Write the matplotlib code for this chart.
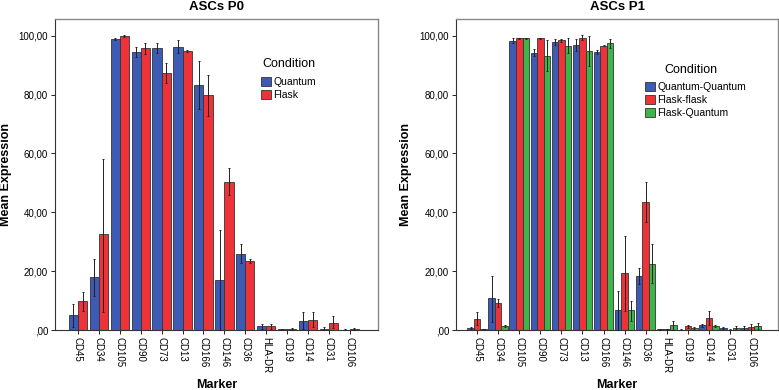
import numpy as np
import matplotlib.pyplot as plt
from matplotlib.patches import Patch

plt.rcParams['font.family'] = ['Liberation Sans', 'DejaVu Sans']

markers = ["CD45", "CD34", "CD105", "CD90", "CD73", "CD13", "CD166",
           "CD146", "CD36", "HLA-DR", "CD19", "CD14", "CD31", "CD106"]

# ASCs P0
p0_quantum = [5.1, 17.9, 98.9, 94.6, 95.8, 96.3, 83.2, 17.0, 26.0, 1.2, 0.2, 3.1, 0.45, 0.1]
p0_quantum_lo = [1.0, 11.5, 98.6, 92.9, 94.0, 94.0, 75.0, 0.0, 22.9, 0.5, 0.1, 0.2, 0.1, 0.05]
p0_quantum_hi = [9.0, 24.0, 99.2, 96.3, 97.6, 98.5, 91.4, 34.0, 29.1, 2.0, 0.4, 6.0, 0.9, 0.2]
p0_flask = [10.0, 32.5, 100.0, 95.8, 87.4, 94.9, 79.8, 50.4, 23.4, 1.2, 0.45, 3.4, 2.4, 0.35]
p0_flask_lo = [6.6, 6.2, 99.7, 93.8, 83.8, 94.6, 72.9, 45.9, 22.9, 0.5, 0.1, 0.9, 0.7, 0.1]
p0_flask_hi = [13.0, 58.0, 100.3, 97.7, 90.8, 95.2, 86.6, 54.9, 24.0, 2.0, 0.8, 6.0, 4.8, 0.7]

# ASCs P1
p1_qq = [0.6, 10.8, 98.4, 94.2, 97.8, 96.8, 94.4, 6.8, 18.3, 0.2, 0.1, 1.6, 0.6, 0.8]
p1_qq_lo = [0.2, 2.6, 97.7, 93.1, 96.9, 94.9, 93.8, 0.0, 15.5, 0.1, 0.05, 1.1, 0.2, 0.1]
p1_qq_hi = [1.0, 18.5, 99.1, 95.4, 98.8, 98.8, 95.1, 13.3, 21.0, 0.3, 0.2, 2.0, 1.0, 1.5]
p1_ff = [3.9, 9.1, 99.1, 99.1, 98.5, 99.3, 96.7, 19.3, 43.6, 0.2, 1.2, 4.2, 0.1, 1.0]
p1_ff_lo = [1.7, 7.7, 98.9, 98.9, 98.0, 98.5, 96.4, 6.6, 36.8, 0.1, 0.8, 1.7, 0.05, 0.0]
p1_ff_hi = [6.0, 10.4, 99.3, 99.3, 99.0, 100.2, 97.0, 32.0, 50.4, 0.3, 1.7, 6.5, 0.2, 2.0]
p1_fq = [0.2, 1.4, 99.1, 93.3, 96.7, 94.9, 97.4, 6.8, 22.5, 1.6, 0.6, 1.4, 0.8, 1.4]
p1_fq_lo = [0.1, 1.0, 98.9, 88.0, 94.2, 89.9, 96.0, 3.2, 15.9, 0.0, 0.2, 1.0, 0.2, 0.5]
p1_fq_hi = [0.3, 1.8, 99.3, 98.5, 99.4, 99.9, 98.8, 10.0, 29.1, 3.2, 1.0, 1.8, 1.4, 2.3]

blue = '#3d5bb5'
red = '#ee3338'
green = '#3cb54a'


def fmt(v):
    s = ("%.2f" % v).replace('.', ',')
    if v == 0:
        s = s[1:]
    return s


def px(x, y):
    # figure pixel position -> figure fraction
    return x / 779, 1 - y / 390


def panel(ax, title, series, names, colors, width, xlim, ylab_x, title_xy, leg_xy):
    n = len(markers)
    X = np.arange(n)
    k = len(series)
    w = width / k
    for i, (vals, lo, hi) in enumerate(series):
        vals = np.array(vals)
        pos = X - width / 2 + w * (i + 0.5)
        ax.bar(pos, vals, w, color=colors[i], edgecolor='#333333', lw=0.6, zorder=2)
        err = [vals - np.array(lo), np.array(hi) - vals]
        ax.errorbar(pos, vals, yerr=err, fmt='none', ecolor='#222222',
                    elinewidth=0.7, capsize=1, capthick=0.7, zorder=3)

    ax.set_xlim(*xlim)
    ax.set_ylim(0, 105.7)
    ax.set_xticks(X)
    ax.set_xticklabels(markers, rotation=270, fontsize=7)
    yt = [0, 20, 40, 60, 80, 100]
    ax.set_yticks(yt)
    ax.set_yticklabels([fmt(v) for v in yt], fontsize=7)
    ax.tick_params(length=3, width=0.6, pad=2)
    for s in ['top', 'right']:
        ax.spines[s].set_color('#888888')
        ax.spines[s].set_linewidth(1.0)
    ax.spines['left'].set_color('#333333')
    ax.spines['bottom'].set_color('#333333')
    ax.set_title(title, fontsize=9.5, weight='bold', pad=6.5)
    ax.set_ylabel("Mean Expression", fontsize=9, weight='bold')
    ax.yaxis.set_label_coords(ylab_x, 0.5)
    ax.set_xlabel("Marker", fontsize=9, weight='bold')
    ax.xaxis.set_label_coords(0.5, -0.158)

    fig.text(*px(*title_xy), "Condition", fontsize=9, ha='center', va='center')
    handles = [Patch(facecolor=c, edgecolor='#333333', lw=0.6) for c in colors]
    fig.legend(handles, names, loc='upper left',
               bbox_to_anchor=px(*leg_xy), frameon=False, fontsize=7.5,
               handlelength=1.0, handleheight=1.0,
               handletextpad=0.2, labelspacing=0.25, borderpad=0,
               borderaxespad=0)


fig = plt.figure(figsize=(7.79, 3.9), dpi=100)
ax1 = fig.add_axes([0.0706, 0.1538, 0.4146, 0.7974])
ax2 = fig.add_axes([0.5854, 0.1538, 0.4133, 0.7974])

panel(ax1, "ASCs P0",
      [(p0_quantum, p0_quantum_lo, p0_quantum_hi), (p0_flask, p0_flask_lo, p0_flask_hi)],
      ["Quantum", "Flask"], [blue, red], 0.88, (-1.1, 14.35), -0.133,
      (289, 64), (261, 77))
panel(ax2, "ASCs P1",
      [(p1_qq, p1_qq_lo, p1_qq_hi), (p1_ff, p1_ff_lo, p1_ff_hi), (p1_fq, p1_fq_lo, p1_fq_hi)],
      ["Quantum-Quantum", "Flask-flask", "Flask-Quantum"], [blue, red, green],
      0.93, (-1.0, 14.28), -0.137, (691, 70), (645, 82))

plt.savefig("out.png", dpi=100)
